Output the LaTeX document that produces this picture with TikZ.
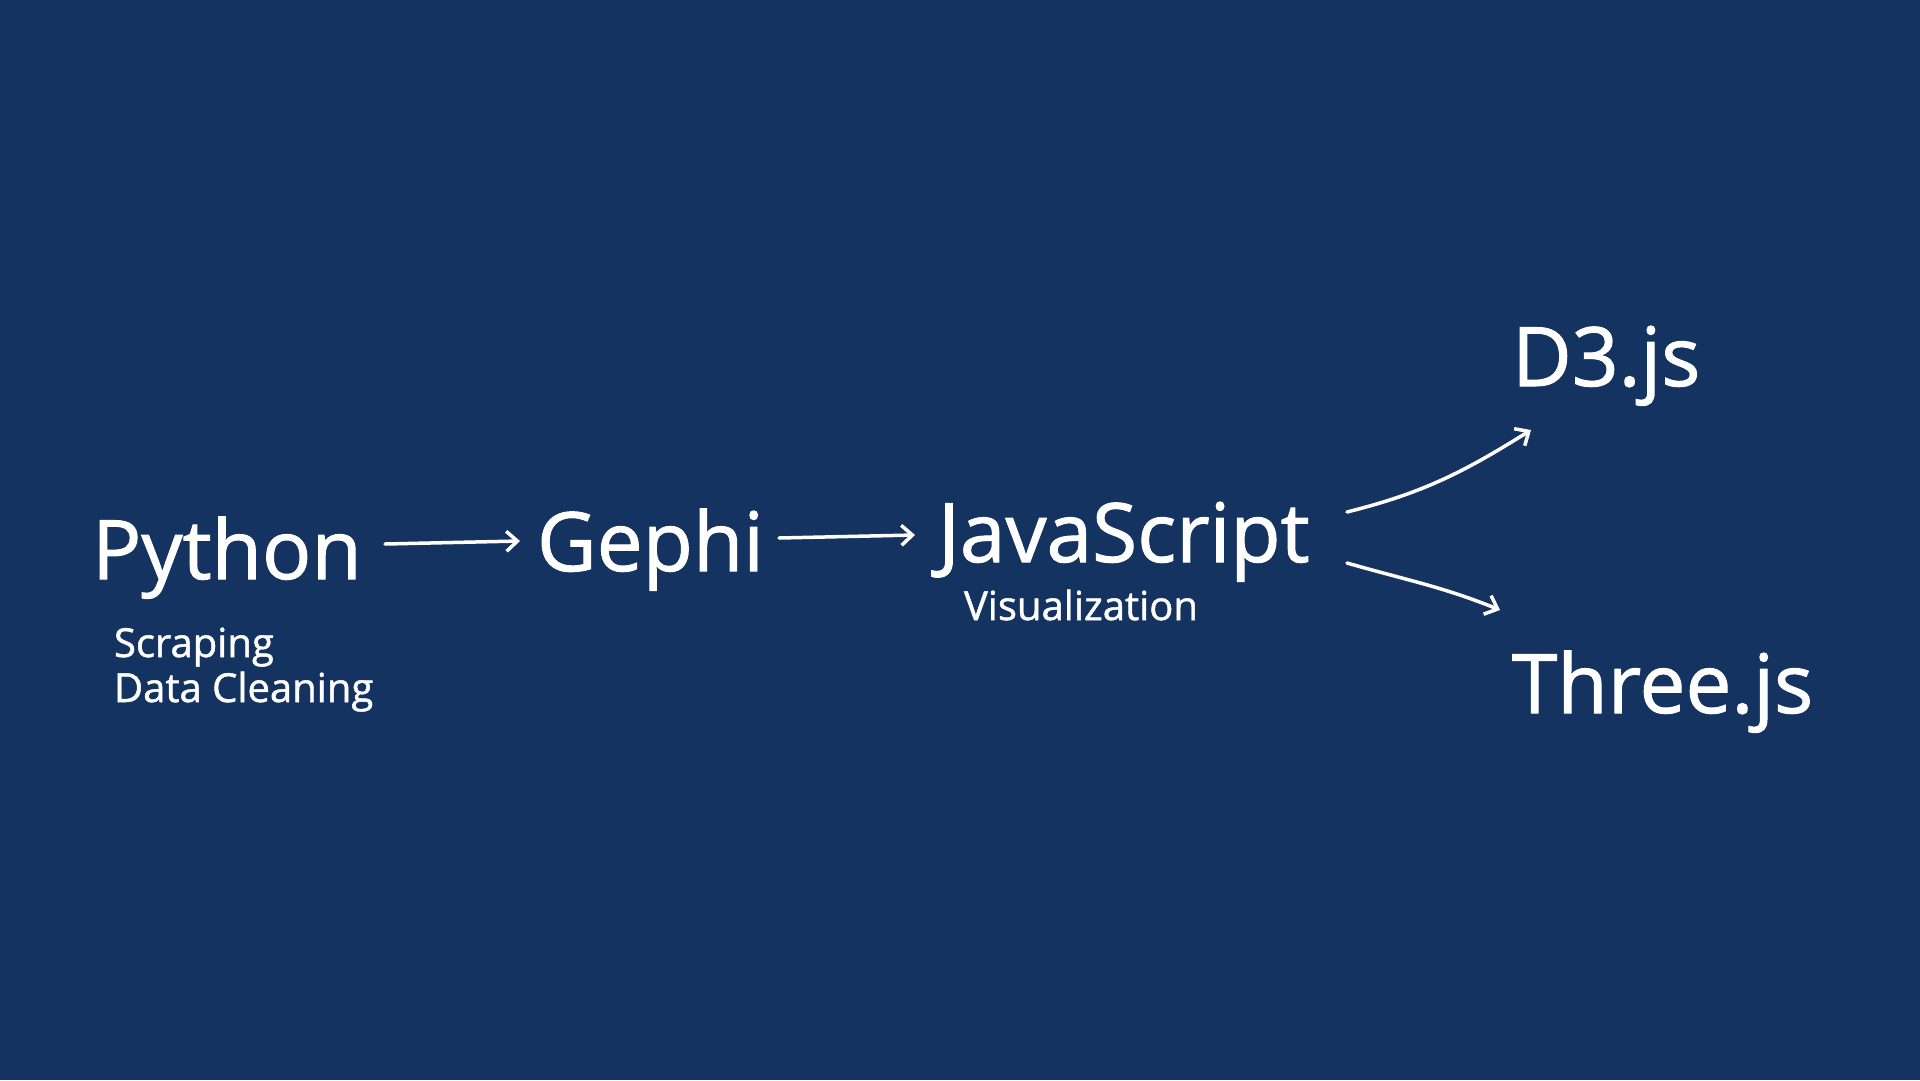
\documentclass[tikz,border=0pt]{standalone}
\usepackage{fontspec}
\setmainfont{Open Sans}
\newfontfamily\medfont{Open Sans}[FakeBold=1.2]
\usetikzlibrary{arrows.meta}
\definecolor{navy}{RGB}{20,51,96}
\tikzset{
  big/.style={text=white, inner sep=0pt, outer sep=0pt, anchor=base west, font=\medfont\fontsize{82}{98}\selectfont},
  small/.style={text=white, inner sep=0pt, outer sep=0pt, anchor=base west, font=\medfont\fontsize{40}{48}\selectfont},
  arr/.style={draw=white, line width=3.5pt, line cap=round, -{Straight Barb[length=11pt,width=20pt,line width=3.5pt]}}
}
\begin{document}
\begin{tikzpicture}[x=1pt,y=-1pt]
\fill[navy] (0,0) rectangle (1920,1080);
\useasboundingbox (0,0) rectangle (1920,1080);
\node[big] (py) at (92,579) {Python};
\node[small] (sc) at (114,657) {Scraping};
\node[small] (dc) at (114,702) {Data Cleaning};
\node[big] (ge) at (537,571) {Gephi};
\node[big] (js) at (938,562) {JavaScript};
\node[small] (vi) at (964,620) {Visualization};
\node[big] (d3) at (1512,386) {D3.js};
\node[big] (th) at (1512,713) {Three.js};
\draw[arr] ([xshift=293pt,yshift=35pt]py.base west) -- ([xshift=-17pt,yshift=30pt]ge.base west);
\draw[arr] ([xshift=242pt,yshift=33pt]ge.base west) -- ([xshift=-23pt,yshift=27pt]js.base west);
\draw[arr] ([xshift=409pt,yshift=50pt]js.base west) to[out=14,in=212] ([xshift=19pt,yshift=-44pt]d3.base west);
\draw[arr] ([xshift=409pt,yshift=-1pt]js.base west) to[out=-16,in=158] ([xshift=-12pt,yshift=103pt]th.base west);
\end{tikzpicture}
\end{document}
